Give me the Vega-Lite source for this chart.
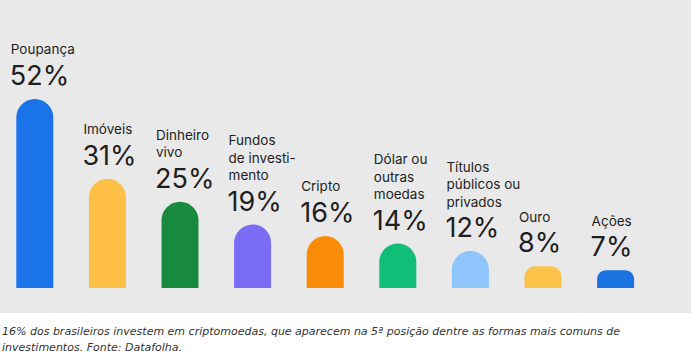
{
  "$schema": "https://vega.github.io/schema/vega-lite/v6.json",
  "width": 691,
  "height": 313,
  "autosize": {"type": "none"},
  "padding": {"left": 0, "right": 0, "top": 0, "bottom": 40},
  "background": "#ffffff",
  "config": {"view": {"stroke": null, "fill": "#e9e9e9"}},
  "title": {
    "text": ["16% dos brasileiros investem em criptomoedas, que aparecem na 5ª posição dentre as formas mais comuns de", "investimentos. Fonte: Datafolha."],
    "orient": "bottom",
    "anchor": "start",
    "frame": "bounds",
    "offset": 13,
    "dx": 2,
    "font": "DejaVu Sans",
    "fontStyle": "italic",
    "fontWeight": "normal",
    "fontSize": 11,
    "lineHeight": 16,
    "color": "#333333",
    "baseline": "top"
  },
  "data": {
    "values": [
      {"cat": "Poupança", "l3": "", "l2": "", "l1": "Poupança", "pct": "52%", "v": 52, "color": "#1a73e8"},
      {"cat": "Imóveis", "l3": "", "l2": "", "l1": "Imóveis", "pct": "31%", "v": 31, "color": "#fdbf45"},
      {"cat": "Dinheiro vivo", "l3": "", "l2": "Dinheiro", "l1": "vivo", "pct": "25%", "v": 25, "color": "#188a3e"},
      {"cat": "Fundos de investimento", "l3": "Fundos", "l2": "de investi-", "l1": "mento", "pct": "19%", "v": 19, "color": "#7b6cf6"},
      {"cat": "Cripto", "l3": "", "l2": "", "l1": "Cripto", "pct": "16%", "v": 16, "color": "#fb8c08"},
      {"cat": "Dólar ou outras moedas", "l3": "Dólar ou", "l2": "outras", "l1": "moedas", "pct": "14%", "v": 14, "color": "#11be78"},
      {"cat": "Títulos públicos ou privados", "l3": "Títulos", "l2": "públicos ou", "l1": "privados", "pct": "12%", "v": 12, "color": "#8ec5fb"},
      {"cat": "Ouro", "l3": "", "l2": "", "l1": "Ouro", "pct": "8%", "v": 8, "color": "#fdc24a"},
      {"cat": "Ações", "l3": "", "l2": "", "l1": "Ações", "pct": "7%", "v": 7, "color": "#1a73e0"}
    ]
  },
  "encoding": {
    "x": {
      "field": "cat",
      "type": "nominal",
      "sort": null,
      "axis": null,
      "scale": {"range": [-1.5, 651.9], "paddingInner": 0, "paddingOuter": 0}
    },
    "y": {
      "field": "v",
      "type": "quantitative",
      "axis": null,
      "scale": {"domain": [-4.27, 78.03], "zero": false, "nice": false}
    }
  },
  "layer": [
    {
      "mark": {"type": "bar", "size": 37, "cornerRadiusTopLeft": 18.5, "cornerRadiusTopRight": 18.5},
      "encoding": {
        "y2": {"datum": 2.3},
        "color": {"field": "color", "type": "nominal", "scale": null, "legend": null}
      }
    },
    {
      "mark": {"type": "text", "align": "left", "baseline": "alphabetic", "xOffset": -25, "dy": -14, "font": "Inter", "fontSize": 27, "color": "#1e1e1e"},
      "encoding": {"text": {"field": "pct"}}
    },
    {
      "mark": {"type": "text", "align": "left", "baseline": "alphabetic", "xOffset": -24, "dy": -44.5, "font": "Inter", "fontSize": 13.5, "color": "#1e1e1e"},
      "encoding": {"text": {"field": "l1"}}
    },
    {
      "mark": {"type": "text", "align": "left", "baseline": "alphabetic", "xOffset": -24, "dy": -62, "font": "Inter", "fontSize": 13.5, "color": "#1e1e1e"},
      "encoding": {"text": {"field": "l2"}}
    },
    {
      "mark": {"type": "text", "align": "left", "baseline": "alphabetic", "xOffset": -24, "dy": -79.5, "font": "Inter", "fontSize": 13.5, "color": "#1e1e1e"},
      "encoding": {"text": {"field": "l3"}}
    }
  ]
}
